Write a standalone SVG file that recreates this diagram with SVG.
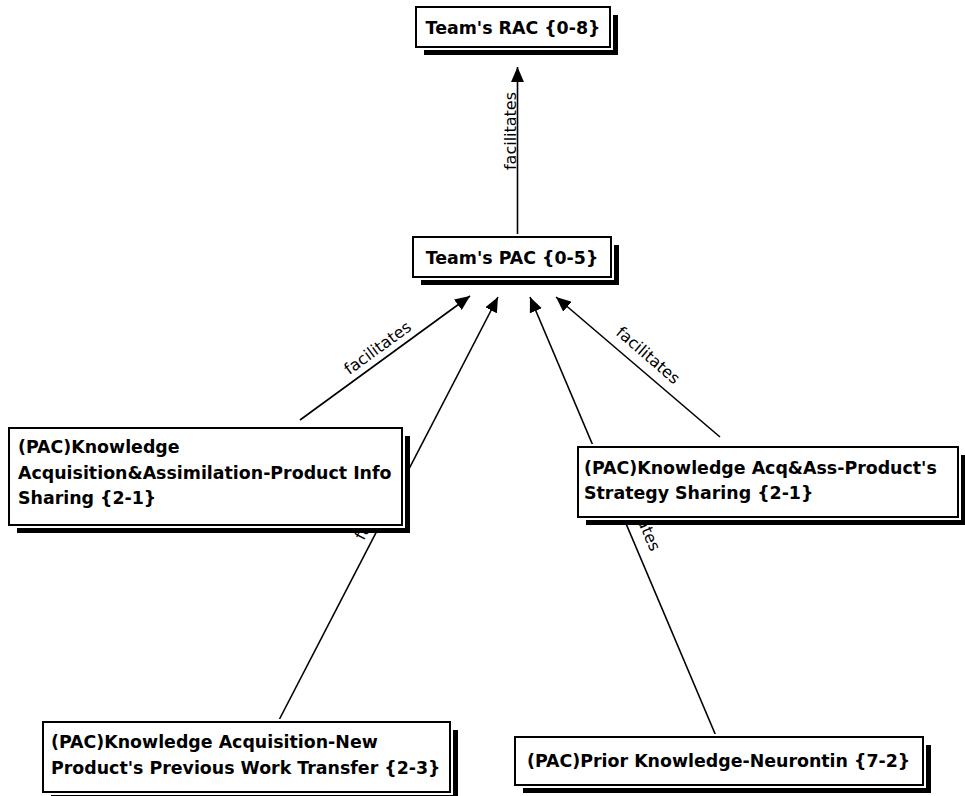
<svg xmlns="http://www.w3.org/2000/svg" width="965" height="796" viewBox="0 0 965 796">
  <style>
    .bg { fill: #ffffff; }
    .shadow { fill: #000000; }
    .halo { fill: #ffffff; stroke: #ffffff; stroke-width: 6; }
    .box { fill: #ffffff; stroke: #000000; stroke-width: 2; }
    .node-text { font-family: "DejaVu Sans", Verdana, sans-serif; font-weight: bold; font-size: 17.4px; fill: #000000; }
    .edge { stroke: #000000; stroke-width: 1.6; fill: none; marker-end: url(#arrowhead); }
    .edge-label { font-family: "DejaVu Sans", Verdana, sans-serif; font-size: 16px; fill: #000000; text-anchor: middle; }
  </style>
  <defs>
    <marker id="arrowhead" markerUnits="userSpaceOnUse" markerWidth="16" markerHeight="13" refX="15" refY="6.5" orient="auto">
      <path d="M0,0 L15,6.5 L0,13 z" fill="#000000"/>
    </marker>
  </defs>

  <rect class="bg" x="0" y="0" width="965" height="796"/>

  <!-- connectors (drawn first so node boxes sit on top) -->
  <g id="connectors">
    <line class="edge" x1="517.5" y1="236" x2="517.5" y2="67"/>
    <line class="edge" x1="300" y1="420" x2="470" y2="296"/>
    <line class="edge" x1="278" y1="722" x2="498" y2="297"/>
    <line class="edge" x1="716" y1="736" x2="530" y2="297"/>
    <line class="edge" x1="720" y1="437" x2="556" y2="297"/>

    <g transform="translate(516,131) rotate(-90)"><text class="edge-label" x="0" y="0">facilitates</text></g>
    <g transform="translate(385,358) rotate(-36.1)"><text class="edge-label" x="0" y="-7">facilitates</text></g>
    <g transform="translate(388,509.5) rotate(-62.6)"><text class="edge-label" x="0" y="-7">facilitates</text></g>
    <g transform="translate(629,519) rotate(67)"><text class="edge-label" x="0" y="-7">facilitates</text></g>
    <g transform="translate(638,367) rotate(40.8)"><text class="edge-label" x="0" y="-10">facilitates</text></g>
  </g>

  <!-- nodes -->
  <g id="team-rac">
    <rect class="shadow" x="424" y="15" width="194" height="40"/>
    <rect class="halo" x="416" y="7" width="194" height="40"/>
    <rect class="box" x="416" y="7" width="194" height="40"/>
    <text class="node-text" x="513" y="33.5" text-anchor="middle">Team's RAC {0-8}</text>
  </g>

  <g id="team-pac">
    <rect class="shadow" x="421" y="245" width="198" height="40"/>
    <rect class="halo" x="413" y="237" width="198" height="40"/>
    <rect class="box" x="413" y="237" width="198" height="40"/>
    <text class="node-text" x="512" y="263.5" text-anchor="middle">Team's PAC {0-5}</text>
  </g>

  <g id="pac-info-sharing">
    <rect class="shadow" x="17" y="436" width="393" height="97"/>
    <rect class="halo" x="9" y="428" width="393" height="97"/>
    <rect class="box" x="9" y="428" width="393" height="97"/>
    <text class="node-text" x="18" y="453">(PAC)Knowledge</text>
    <text class="node-text" x="18" y="479">Acquisition&amp;Assimilation-Product Info</text>
    <text class="node-text" x="18" y="504">Sharing {2-1}</text>
  </g>

  <g id="pac-strategy-sharing">
    <rect class="shadow" x="586" y="455" width="380" height="70"/>
    <rect class="halo" x="578" y="447" width="380" height="70"/>
    <rect class="box" x="578" y="447" width="380" height="70"/>
    <text class="node-text" x="584" y="474">(PAC)Knowledge Acq&amp;Ass-Product's</text>
    <text class="node-text" x="584" y="499">Strategy Sharing {2-1}</text>
  </g>

  <g id="pac-work-transfer">
    <rect class="shadow" x="51" y="730" width="407" height="70"/>
    <rect class="halo" x="43" y="722" width="407" height="70"/>
    <rect class="box" x="43" y="722" width="407" height="70"/>
    <text class="node-text" x="51" y="748">(PAC)Knowledge Acquisition-New</text>
    <text class="node-text" x="51" y="774">Product's Previous Work Transfer {2-3}</text>
  </g>

  <g id="pac-prior-knowledge">
    <rect class="shadow" x="523" y="745" width="408" height="48"/>
    <rect class="halo" x="515" y="737" width="408" height="48"/>
    <rect class="box" x="515" y="737" width="408" height="48"/>
    <text class="node-text" x="527" y="767">(PAC)Prior Knowledge-Neurontin {7-2}</text>
  </g>
</svg>
